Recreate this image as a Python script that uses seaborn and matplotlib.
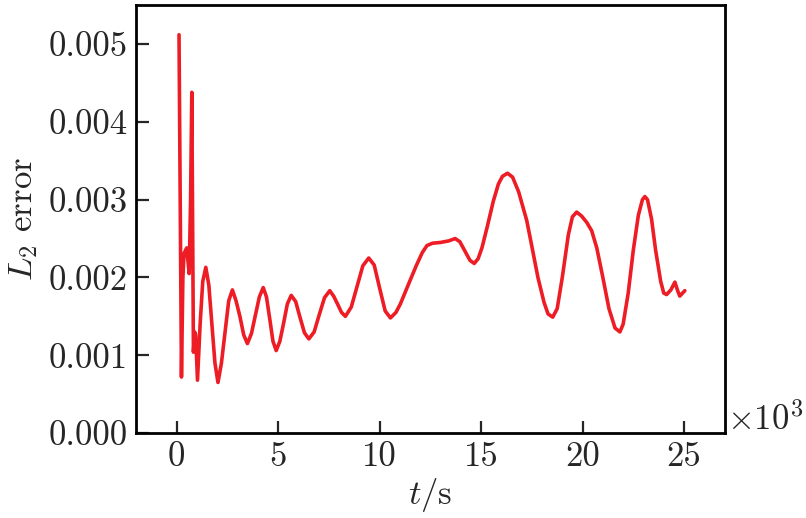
import numpy as np
import matplotlib
matplotlib.use("Agg")
import matplotlib.pyplot as plt
import seaborn as sns
from matplotlib.ticker import FormatStrFormatter

# Data (t in units of 10^3 s)
t_k = [0.11, 0.23, 0.30, 0.36, 0.49, 0.61, 0.68, 0.74, 0.82, 0.88, 0.93, 1.02,
       1.15, 1.28, 1.43, 1.58, 1.73, 1.88, 2.03, 2.20, 2.38, 2.56, 2.74, 2.92,
       3.11, 3.30, 3.48, 3.68, 3.87, 4.07, 4.26, 4.42, 4.58, 4.74, 4.90, 5.08,
       5.27, 5.45, 5.64, 5.86, 6.07, 6.29, 6.51, 6.77, 7.02, 7.28, 7.54, 7.73,
       7.92, 8.12, 8.31, 8.60, 8.88, 9.17, 9.46, 9.73, 10.00, 10.27, 10.53,
       10.80, 11.02, 11.40, 11.80, 12.10, 12.33, 12.60, 13.00, 13.40, 13.72,
       13.95, 14.20, 14.45, 14.66, 14.85, 15.04, 15.30, 15.60, 15.85, 16.05,
       16.30, 16.55, 16.85, 17.25, 17.50, 17.80, 18.10, 18.30, 18.53, 18.75,
       19.00, 19.30, 19.50, 19.71, 19.95, 20.20, 20.45, 20.70, 21.00, 21.30,
       21.60, 21.84, 22.00, 22.25, 22.50, 22.75, 22.95, 23.07, 23.20, 23.40,
       23.60, 23.85, 24.00, 24.14, 24.35, 24.55, 24.70, 24.79, 25.04]
l2_err = [0.00512, 0.00072, 0.00200, 0.00231, 0.00238, 0.00205, 0.00300,
          0.00438, 0.00104, 0.00130, 0.00126, 0.00068, 0.00140, 0.00195,
          0.00213, 0.00190, 0.00140, 0.00090, 0.00065, 0.00090, 0.00130,
          0.00170, 0.00184, 0.00170, 0.00150, 0.00126, 0.00115, 0.00128,
          0.00151, 0.00175, 0.00187, 0.00175, 0.00147, 0.00118, 0.00106,
          0.00118, 0.00142, 0.00166, 0.00177, 0.00169, 0.00149, 0.00129,
          0.00121, 0.00130, 0.00152, 0.00174, 0.00183, 0.00176, 0.00166,
          0.00155, 0.00150, 0.00162, 0.00188, 0.00215, 0.00225, 0.00216,
          0.00186, 0.00157, 0.00148, 0.00155, 0.00166, 0.00190, 0.00215,
          0.00232, 0.00241, 0.00244, 0.00245, 0.00247, 0.00250, 0.00246,
          0.00234, 0.00222, 0.00218, 0.00224, 0.00238, 0.00265, 0.00298,
          0.00320, 0.00330, 0.00334, 0.00329, 0.00310, 0.00273, 0.00240,
          0.00200, 0.00168, 0.00153, 0.00149, 0.00160, 0.00200, 0.00255,
          0.00278, 0.00284, 0.00279, 0.00271, 0.00260, 0.00238, 0.00200,
          0.00160, 0.00135, 0.00130, 0.00140, 0.00180, 0.00235, 0.00280,
          0.00300, 0.00304, 0.00300, 0.00275, 0.00235, 0.00195, 0.00180,
          0.00178, 0.00184, 0.00194, 0.00182, 0.00176, 0.00183]

x_ticks = [0, 5, 10, 15, 20, 25]
y_ticks = [0.000, 0.001, 0.002, 0.003, 0.004, 0.005]

sns.set_style("ticks")
plt.rcParams["font.family"] = ["cmr10", "DejaVu Serif"]
plt.rcParams["mathtext.fontset"] = "cm"
plt.rcParams["axes.unicode_minus"] = False

fig = plt.figure(figsize=(8.06, 5.18), dpi=100)
ax = fig.add_axes([0.169, 0.164, 0.730, 0.826])

sns.lineplot(x=t_k, y=l2_err, ax=ax, color="#ee1c25", linewidth=2.6,
             sort=False, estimator=None)

ax.set_xlim(-2, 27)
ax.set_ylim(0, 0.0055)
ax.set_xticks(x_ticks)
ax.set_yticks(y_ticks)
ax.yaxis.set_major_formatter(FormatStrFormatter("%.3f"))

for s in ax.spines.values():
    s.set_linewidth(2.0)
    s.set_color("black")
ax.tick_params(direction="in", length=9, width=1.6, labelsize=25, pad=6)

ax.set_xlabel(r"$t/\mathrm{s}$", fontsize=25, labelpad=2)
ax.set_ylabel(r"$L_2$ error", fontsize=25, labelpad=6)
ax.text(1.004, -0.01, r"$\times10^3$", transform=ax.transAxes, fontsize=25,
        ha="left", va="bottom")

fig.savefig("out.png", dpi=100)
